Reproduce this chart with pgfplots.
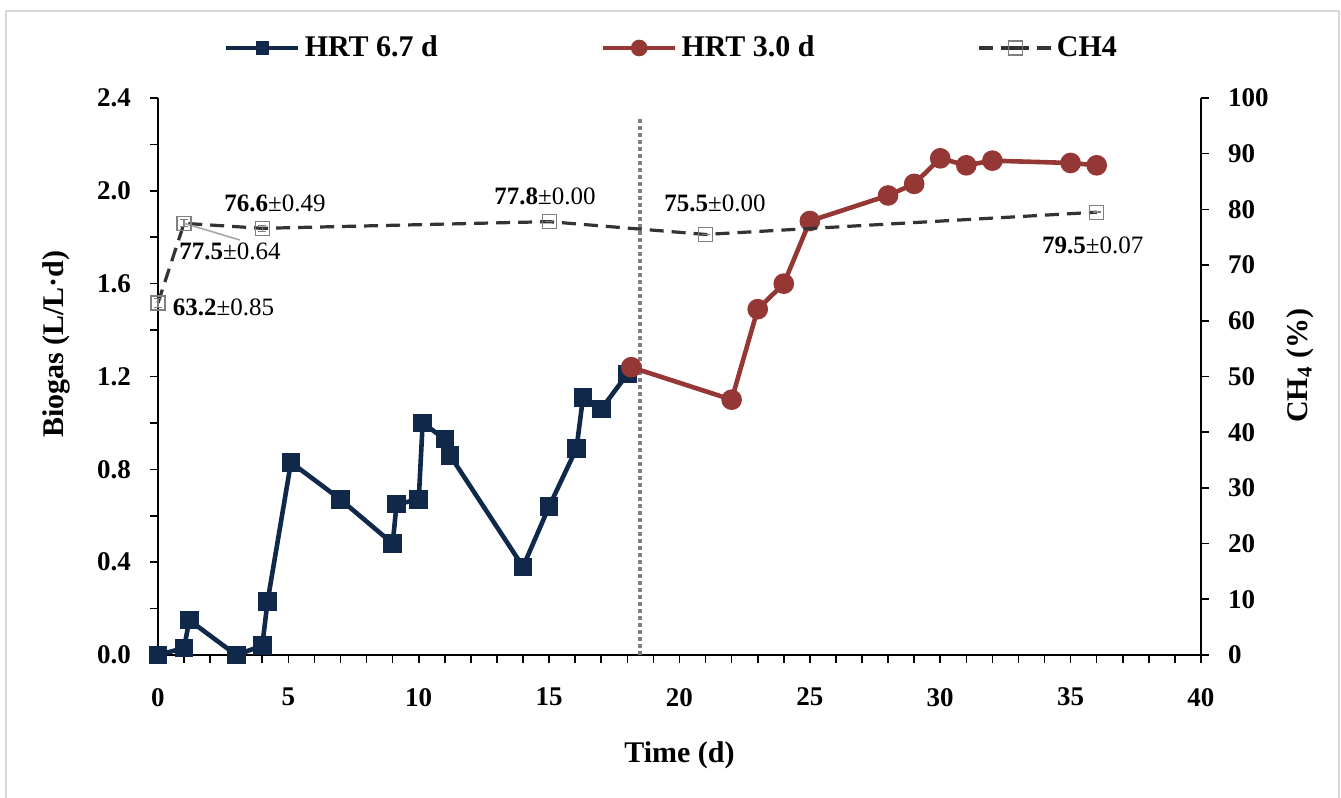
\documentclass[border=0pt]{standalone}
\usepackage{fontspec}
\setmainfont{Liberation Serif}
\usepackage{pgfplots}
\pgfplotsset{compat=1.18}
\definecolor{navy}{HTML}{10284A}
\definecolor{dred}{HTML}{953735}
\definecolor{chgrey}{HTML}{333333}
\definecolor{dotgrey}{HTML}{808080}
\definecolor{framegrey}{HTML}{D9D9D9}
\newcommand{\fs}{\fontsize{12.5}{14}\selectfont}
\newcommand{\ts}{\fontsize{13.5}{15}\selectfont}
\newcommand{\ls}{\fontsize{15}{17}\selectfont}
\begin{document}
\begin{tikzpicture}
\useasboundingbox (-79pt,-71.5pt) rectangle (591.5pt,327.5pt);
\draw[framegrey, line width=0.8pt] (-76pt,-80pt) -- (-76pt,322pt) -- (590.5pt,322pt) -- (590.5pt,-80pt);
\begin{axis}[
  scale only axis, width=521.5pt, height=278.5pt,
  xmin=0, xmax=40, ymin=0, ymax=2.4,
  axis x line*=bottom, axis y line*=left,
  axis line style={line width=0.8pt, -},
  tick style={line width=0.8pt, black},
  tick align=outside,
  major tick length=4pt, minor tick length=4pt,
  xtick={0,5,...,40}, minor x tick num=4,
  ytick={0,0.4,...,2.4}, minor y tick num=1,
  /pgf/number format/assume math mode=true,
  yticklabel style={/pgf/number format/fixed, /pgf/number format/fixed zerofill, /pgf/number format/precision=1, xshift=-6pt},
  ticklabel style={font=\ts\bfseries},
  xticklabel style={yshift=-9pt},
  xlabel={Time (d)}, ylabel={Biogas (L/L·d)},
  label style={font=\ls\bfseries},
  xlabel style={at={(axis description cs:0.5,0)}, anchor=center, yshift=-50pt},
  ylabel style={at={(axis description cs:0,0.558)}, anchor=center, yshift=51pt},
  clip=false,
]
\draw[dotgrey, line width=1.9pt, dash pattern=on 1.9pt off 1.6pt] (axis cs:18.5,0) -- (axis cs:18.5,2.31);
\addplot[navy, line width=2.3pt, mark=square*, mark size=3.5pt, mark options={solid}] coordinates {
(0,0.00) (1,0.03) (1.2,0.15) (3,0.00) (4,0.04) (4.2,0.23) (5.1,0.83) (7,0.67)
(9,0.48) (9.15,0.65) (10,0.67) (10.15,1.00) (11,0.93) (11.2,0.86) (14,0.38)
(15,0.64) (16.05,0.89) (16.3,1.11) (17,1.06) (18,1.21)};
\addplot[dred, line width=2.3pt, mark=*, mark size=4pt] coordinates {
(18.15,1.24) (22,1.10) (23,1.49) (24,1.60) (25,1.87) (28,1.98) (29,2.03)
(30,2.14) (31,2.11) (32,2.13) (35,2.12) (36,2.11)};
\end{axis}
\begin{axis}[
  scale only axis, width=521.5pt, height=278.5pt,
  xmin=0, xmax=40, ymin=0, ymax=100,
  axis x line=none, axis y line*=right,
  axis line style={line width=0.8pt, -},
  tick style={line width=0.8pt, black},
  tick align=outside, major tick length=4pt,
  ytick={0,10,...,100},
  /pgf/number format/assume math mode=true,
  ticklabel style={font=\ts\bfseries},
  yticklabel style={xshift=6pt},
  ylabel={CH\textsubscript{4} (\%)},
  label style={font=\ls\bfseries},
  ylabel style={at={(axis description cs:1,0.519)}, anchor=center, rotate=0, yshift=-49.5pt},
  clip=false,
  legend columns=3,
  legend style={draw=none, fill=none, at={(axis description cs:0.4933,1.0898)}, anchor=center,
    font=\ls\bfseries,
    /tikz/every even column/.append style={column sep=79.5pt}},
  legend image code/.code={\draw[#1] (0pt,0pt) -- (18pt,0pt) plot coordinates {(18pt,0pt)} -- (36pt,0pt);},
]
\addlegendimage{navy, line width=2.3pt, mark=square*, mark size=2.2pt}
\addlegendentry{HRT 6.7 d}
\addlegendimage{dred, line width=2.3pt, mark=*, mark size=3pt}
\addlegendentry{HRT 3.0 d}
\addplot[chgrey, line width=1.6pt, dash pattern=on 7pt off 4pt,
  mark=square, mark size=3.5pt, mark options={solid, draw=gray, fill=white, line width=0.6pt},
  error bars/.cd, y dir=both, y explicit, error bar style={solid, gray, line width=0.6pt},
  error mark options={rotate=90, mark size=2pt, gray}]
  coordinates {
(0,63.2) +- (0,0.85)
(1,77.5) +- (0,0.64)
(4,76.6) +- (0,0.49)
(15,77.8) +- (0,0.00)
(21,75.5) +- (0,0.00)
(36,79.5) +- (0,0.07)};
\addlegendentry{CH4}
\draw[gray!70, line width=0.8pt] (axis cs:1,77.5) -- (axis cs:3.14,74.5);
\node[font=\fs] at (axis cs:4.49,81.0) {\textbf{76.6}±0.49};
\node[font=\fs] at (axis cs:2.76,72.4) {\textbf{77.5}±0.64};
\node[font=\fs, anchor=west] at (axis cs:0.3,62.5) {\textbf{63.2}±0.85};
\node[font=\fs] at (axis cs:14.84,82.4) {\textbf{77.8}±0.00};
\node[font=\fs] at (axis cs:21.36,81.0) {\textbf{75.5}±0.00};
\node[font=\fs] at (axis cs:35.85,73.6) {\textbf{79.5}±0.07};
\end{axis}
\end{tikzpicture}
\end{document}
